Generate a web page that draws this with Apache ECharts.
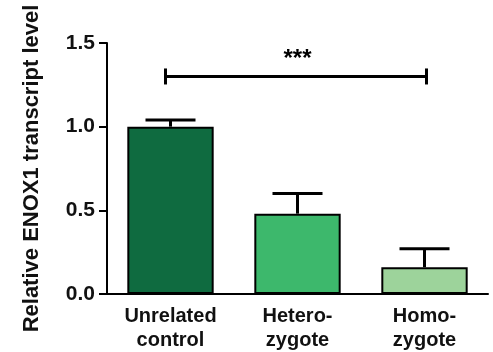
<!DOCTYPE html>
<html>
<head>
<meta charset="utf-8">
<script src="https://cdn.jsdelivr.net/npm/echarts@6/dist/echarts.min.js"></script>
<style>html,body{margin:0;padding:0;background:#fff;}#c{width:493px;height:352px;}</style>
</head>
<body>
<div id="c"></div>
<script>
const categories = ['Unrelated\ncontrol', 'Hetero-\nzygote', 'Homo-\nzygote'];
const means = [1.0, 0.48, 0.16];
const errors = [0.04, 0.12, 0.11];
const barColors = ['#0f6b40', '#3db86c', '#9dd39b'];
const yMin = 0, yMax = 1.5, yStep = 0.5;
const sigFrom = 0, sigTo = 2, sigLevel = 1.30, sigLabel = '***';

const font = 'Liberation Sans, Arial, sans-serif';
const chart = echarts.init(document.getElementById('c'), null, {renderer: 'canvas'});

chart.setOption({
  animation: false,
  backgroundColor: '#fff',
  grid: {left: 107, right: 5, top: 43, bottom: 57},
  xAxis: {
    type: 'category',
    data: categories,
    axisLine: {lineStyle: {color: '#000', width: 2}},
    axisTick: {alignWithLabel: true, length: 6, lineStyle: {color: '#000', width: 2}},
    axisLabel: {color: '#111', fontSize: 20, fontWeight: 'bold', fontFamily: font, margin: 10, lineHeight: 24}
  },
  yAxis: {
    type: 'value', min: yMin, max: yMax, interval: yStep,
    name: 'Relative ENOX1 transcript level',
    nameLocation: 'middle', nameRotate: 90, nameGap: 64,
    nameTextStyle: {color: '#111', fontSize: 22, fontFamily: font, fontWeight: 'bold'},
    axisLine: {show: true, lineStyle: {color: '#000', width: 2}},
    axisTick: {show: true, length: 8, lineStyle: {color: '#000', width: 2}},
    splitLine: {show: false},
    axisLabel: {color: '#111', fontSize: 21, fontWeight: 'bold', fontFamily: font, margin: 12,
      formatter: v => v.toFixed(1)}
  },
  series: [
    {
      type: 'bar',
      barWidth: '68%',
      data: means.map((v, i) => ({value: v, itemStyle: {color: barColors[i]}})),
      itemStyle: {borderColor: '#000', borderWidth: 2},
      z: 2
    },
    {
      type: 'custom',
      data: means.map((v, i) => [i, v, v + errors[i]]),
      renderItem: function (params, api) {
        const base = api.coord([api.value(0), api.value(1)]);
        const top = api.coord([api.value(0), api.value(2)]);
        const half = 25;
        const style = {stroke: '#000', lineWidth: 3};
        return {
          type: 'group',
          children: [
            {type: 'line', shape: {x1: base[0], y1: base[1], x2: top[0], y2: top[1]}, style: style},
            {type: 'line', shape: {x1: top[0] - half, y1: top[1], x2: top[0] + half, y2: top[1]}, style: style}
          ]
        };
      },
      z: 1
    },
    {
      type: 'custom',
      data: [[sigFrom, sigTo, sigLevel]],
      renderItem: function (params, api) {
        const a = api.coord([api.value(0), api.value(2)]);
        const b = api.coord([api.value(1), api.value(2)]);
        const style = {stroke: '#000', lineWidth: 3};
        const h = 8;
        return {
          type: 'group',
          children: [
            {type: 'line', shape: {x1: a[0] - 5, y1: a[1], x2: b[0] + 2, y2: b[1]}, style: style},
            {type: 'line', shape: {x1: a[0] - 5, y1: a[1] - h, x2: a[0] - 5, y2: a[1] + h}, style: style},
            {type: 'line', shape: {x1: b[0] + 2, y1: b[1] - h, x2: b[0] + 2, y2: b[1] + h}, style: style},
            {type: 'text', style: {text: sigLabel, x: (a[0] + b[0]) / 2, y: a[1] - 17, align: 'center', verticalAlign: 'middle',
              fill: '#000', font: 'bold 24px ' + font}}
          ]
        };
      },
      z: 3
    }
  ]
});
</script>
</body>
</html>
